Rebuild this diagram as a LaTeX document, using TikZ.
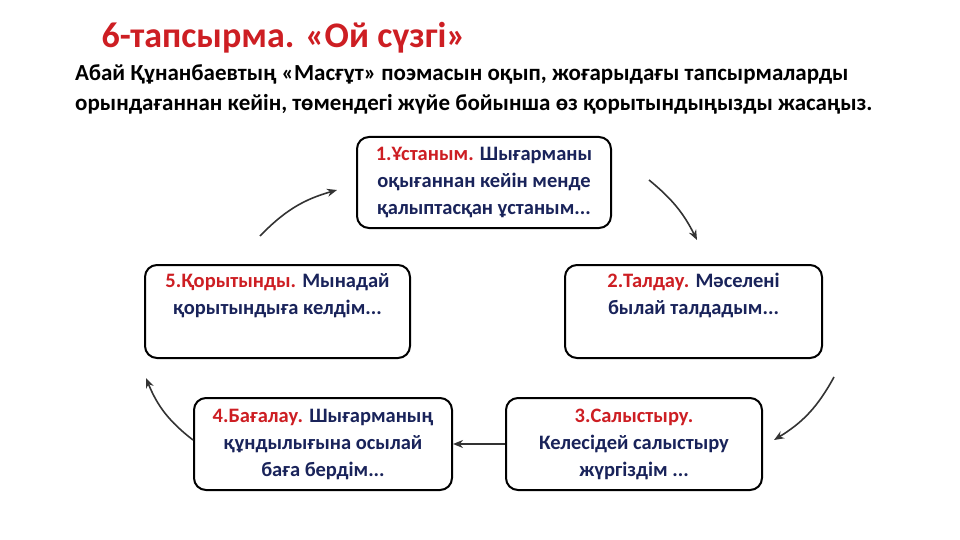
\documentclass[tikz,border=0pt]{standalone}
\usepackage{fontspec}
\setmainfont{Carlito}
\usetikzlibrary{arrows.meta}
\definecolor{tred}{RGB}{205,30,35}
\definecolor{tnavy}{RGB}{25,35,90}
\begin{document}
\begin{tikzpicture}[x=1pt,y=-1pt,
  box/.style={draw=black,line width=2pt,rounded corners=12pt,fill=white,align=center,font=\bfseries\fontsize{20.5}{27}\selectfont,text=tnavy,inner sep=0pt},
  cyc/.style={-{Stealth[length=10pt,width=8pt]},line width=1.6pt,draw=black!80}]
\useasboundingbox (0,0) rectangle (960,540);
\node[font=\bfseries\fontsize{36}{40}\selectfont,text=tred,anchor=west] (title) at (98,38) {6-тапсырма. «Ой сүзгі»};
\node[font=\bfseries\fontsize{23}{30}\selectfont,anchor=north west,align=left,inner sep=0pt] (intro) at (75,64)
 {Абай Құнанбаевтың «Масғұт» поэмасын оқып, жоғарыдағы тапсырмаларды\\орындағаннан кейін, төмендегі жүйе бойынша өз қорытындыңызды жасаңыз.};
\node[box,minimum width=254pt,minimum height=91pt] (b1) at (484,182.5) {{\color{tred}1.Ұстаным.} Шығарманы\\оқығаннан кейін менде\\қалыптасқан ұстаным...};
\node[box,minimum width=257pt,minimum height=93pt] (b2) at (693.5,311.5) {{\color{tred}2.Талдау.} Мәселені\\былай талдадым...\\[8pt]};
\node[box,minimum width=256pt,minimum height=92pt] (b3) at (634,444) {{\color{tred}3.Салыстыру.}\\Келесідей салыстыру\\жүргіздім ...};
\node[box,minimum width=258pt,minimum height=92pt] (b4) at (323,444) {{\color{tred}4.Бағалау.} Шығарманың\\құндылығына осылай\\баға бердім...};
\node[box,minimum width=265pt,minimum height=93pt] (b5) at (277.5,311.5) {{\color{tred}5.Қорытынды.} Мынадай\\қорытындыға келдім...\\[8pt]};
\coordinate (a1s) at (649,180); \coordinate (a1e) at (697,240);
\coordinate (a2s) at (834,377); \coordinate (a2e) at (774,440);
\coordinate (a4s) at (193,440); \coordinate (a4e) at (146,378);
\coordinate (a5s) at (260,236); \coordinate (a5e) at (337,190);
\draw[cyc] (a1s) to[bend left=12] (a1e);
\draw[cyc] (a2s) to[bend left=15] (a2e);
\draw[cyc] (b3.west) -- (b4.east);
\draw[cyc] (a4s) to[bend left=15] (a4e);
\draw[cyc] (a5s) to[bend left=15] (a5e);
\end{tikzpicture}
\end{document}
